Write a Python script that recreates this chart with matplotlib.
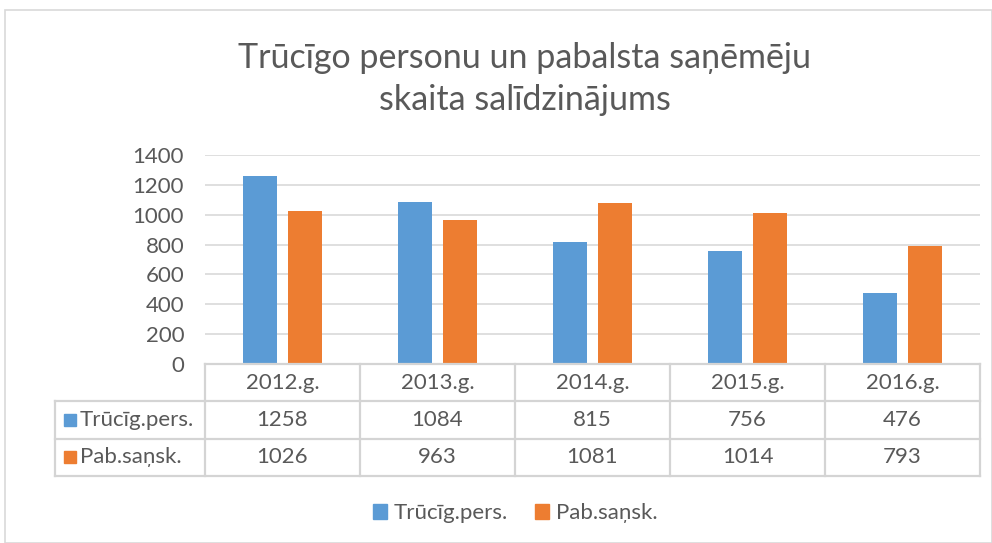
import matplotlib
matplotlib.use("Agg")
import matplotlib.pyplot as plt
from matplotlib.patches import Rectangle
import matplotlib.transforms as mtrans
import numpy as np

plt.rcParams['font.family'] = ['Lato', 'DejaVu Sans']

categories = ["2012.g.", "2013.g.", "2014.g.", "2015.g.", "2016.g."]
series_names = ["Trūcīg.pers.", "Pab.saņsk."]
trucig = [1258, 1084, 815, 756, 476]
pabsansk = [1026, 963, 1081, 1014, 793]
yticks = [0, 200, 400, 600, 800, 1000, 1200, 1400]
title = "Trūcīgo personu un pabalsta saņēmēju\nskaita salīdzinājums"

colors = ["#5B9BD5", "#ED7D31"]
txt = "#595959"
grid = "#D9D9D9"
fs = 16

W, H = 992, 543
fig = plt.figure(figsize=(W / 100, H / 100), dpi=100)

# chart border
fig.patches.append(Rectangle((5 / W, 0), (W - 5) / W, (H - 10) / H, transform=fig.transFigure,
                             fill=False, edgecolor="#D9D9D9", linewidth=1.2))

def px(x0, y0, x1, y1):
    return [x0 / W, 1 - y1 / H, (x1 - x0) / W, (y1 - y0) / H]

ax = fig.add_axes(px(205, 155, 980, 364))
x = np.arange(len(categories))
bw = 0.22
off = 0.145
ax.bar(x - off, trucig, bw, color=colors[0], zorder=3)
ax.bar(x + off, pabsansk, bw, color=colors[1], zorder=3)
ax.set_xlim(-0.5, len(categories) - 0.5)
ax.set_ylim(0, 1400)
ax.set_yticks(yticks)
ax.set_yticklabels([str(v) for v in yticks], fontsize=fs, color=txt)
ax.set_xticks([])
ax.grid(axis="y", color=grid, linewidth=1.2, zorder=0)
for s in ax.spines.values():
    s.set_visible(False)
ax.tick_params(axis="y", length=0, pad=15)

fig.text(525 / W, 1 - 79 / H, title, ha="center", va="center", fontsize=24.5, color=txt,
         linespacing=1.35)

# data table
tax = fig.add_axes(px(205, 364, 980, 476), sharex=ax)
tax.set_ylim(3, 0)
tax.axis("off")
left = -0.5 - 150 / 155
right = len(categories) - 0.5
lc = "#D4D4D4"
lw = 1.6
tax.plot([-0.5, right], [0, 0], color=lc, lw=lw, clip_on=False)
for r in [1, 2, 3]:
    tax.plot([left, right], [r, r], color=lc, lw=lw, clip_on=False)
tax.plot([left, left], [1, 3], color=lc, lw=lw, clip_on=False)
for b in np.arange(-0.5, len(categories), 1.0):
    tax.plot([b, b], [0, 3], color=lc, lw=lw, clip_on=False)
for i, c in enumerate(categories):
    tax.text(i, 0.5, c, ha="center", va="center", fontsize=fs, color=txt)
    tax.text(i, 1.5, str(trucig[i]), ha="center", va="center", fontsize=fs, color=txt)
    tax.text(i, 2.5, str(pabsansk[i]), ha="center", va="center", fontsize=fs, color=txt)
for r, (name, col) in enumerate(zip(series_names, colors)):
    tr = mtrans.blended_transform_factory(fig.transFigure, tax.transData)
    tax.add_patch(Rectangle((64 / W, r + 1.5 - 0.16), 12 / W, 0.32, transform=tr,
                            color=col, clip_on=False))
    tax.text(80 / W, r + 1.5, name, transform=tr, ha="left", va="center", fontsize=fs, color=txt)

# legend
handles = [Rectangle((0, 0), 1, 1, color=c) for c in colors]
fig.legend(handles, series_names, loc="center", bbox_to_anchor=(515 / W, 1 - 513 / H),
           ncol=2, frameon=False, fontsize=fs, labelcolor=txt, handlelength=0.65,
           handleheight=0.65, handletextpad=0.3, columnspacing=1.2)

fig.savefig("out.png", dpi=100)
